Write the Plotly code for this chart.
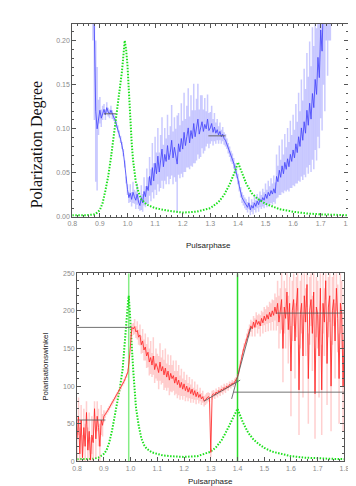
import numpy as np
import plotly.graph_objects as go

# ---------------- data: top panel (polarization degree) ----------------
blue_phase = np.round(np.arange(0.875, 1.7351, 0.005), 3)
blue_deg = [
    0.30, 0.20, 0.12, 0.10, 0.113, 0.121, 0.112, 0.118, 0.122, 0.116,
    0.124, 0.119, 0.117, 0.121, 0.116, 0.113, 0.110, 0.105, 0.100, 0.094,
    0.088, 0.081, 0.073, 0.060, 0.042, 0.031, 0.022, 0.027, 0.020, 0.028,
    0.023, 0.019, 0.026, 0.017, 0.013, 0.022, 0.016, 0.029, 0.023, 0.035,
    0.030, 0.046, 0.036, 0.056, 0.041, 0.061, 0.049, 0.069, 0.051, 0.063,
    0.077, 0.057, 0.071, 0.063, 0.081, 0.065, 0.073, 0.087, 0.067, 0.079,
    0.070, 0.060, 0.083, 0.074, 0.089, 0.077, 0.096, 0.081, 0.091, 0.101,
    0.084, 0.098, 0.089, 0.106, 0.091, 0.099, 0.111, 0.094, 0.103, 0.108,
    0.097, 0.105, 0.100, 0.111, 0.098, 0.101, 0.106, 0.096, 0.102, 0.095,
    0.099, 0.093, 0.097, 0.091, 0.094, 0.089, 0.087, 0.083, 0.078, 0.074,
    0.069, 0.066, 0.061, 0.055, 0.050, 0.043, 0.035, 0.028, 0.022, 0.019,
    0.016, 0.014, 0.011, 0.016, 0.008, 0.013, 0.010, 0.016, 0.012, 0.018,
    0.014, 0.020, 0.017, 0.022, 0.019, 0.026, 0.021, 0.028, 0.024, 0.030,
    0.026, 0.032, 0.027, 0.046, 0.040, 0.053, 0.045, 0.058, 0.049, 0.062,
    0.054, 0.066, 0.057, 0.071, 0.063, 0.076, 0.067, 0.083, 0.073, 0.091,
    0.080, 0.101, 0.087, 0.108, 0.095, 0.121, 0.104, 0.129, 0.111, 0.140,
    0.124, 0.156, 0.139, 0.181, 0.158, 0.212, 0.188, 0.250, 0.220, 0.300,
    0.260, 0.300, 0.300,
]
blue_err = [
    0.10, 0.09, 0.08, 0.07, 0.02, 0.015, 0.01, 0.008, 0.006, 0.006,
    0.006, 0.005, 0.005, 0.005, 0.005, 0.004, 0.004, 0.004, 0.004, 0.004,
    0.004, 0.004, 0.004, 0.004, 0.004, 0.006, 0.006, 0.01, 0.008, 0.012,
    0.008, 0.01, 0.012, 0.008, 0.006, 0.014, 0.01, 0.016, 0.012, 0.02,
    0.015, 0.022, 0.018, 0.028, 0.02, 0.03, 0.024, 0.032, 0.022, 0.03,
    0.036, 0.025, 0.03, 0.026, 0.035, 0.028, 0.03, 0.04, 0.03, 0.034,
    0.03, 0.055, 0.035, 0.03, 0.04, 0.032, 0.045, 0.03, 0.035, 0.045,
    0.03, 0.04, 0.032, 0.045, 0.03, 0.035, 0.04, 0.028, 0.035, 0.03,
    0.025, 0.03, 0.02, 0.028, 0.02, 0.018, 0.02, 0.015, 0.016, 0.012,
    0.012, 0.01, 0.01, 0.008, 0.008, 0.007, 0.007, 0.006, 0.006, 0.006,
    0.006, 0.006, 0.006, 0.006, 0.006, 0.006, 0.006, 0.006, 0.006, 0.006,
    0.006, 0.006, 0.006, 0.007, 0.006, 0.007, 0.007, 0.008, 0.007, 0.008,
    0.008, 0.009, 0.008, 0.01, 0.009, 0.012, 0.01, 0.013, 0.011, 0.014,
    0.012, 0.015, 0.012, 0.025, 0.018, 0.028, 0.02, 0.03, 0.022, 0.032,
    0.025, 0.035, 0.028, 0.038, 0.03, 0.04, 0.032, 0.045, 0.035, 0.05,
    0.04, 0.055, 0.045, 0.06, 0.05, 0.065, 0.055, 0.07, 0.06, 0.075,
    0.07, 0.08, 0.075, 0.09, 0.08, 0.1, 0.09, 0.1, 0.1, 0.1,
    0.1, 0.1, 0.1,
]

lc_top_phase = [0.80, 0.85, 0.88, 0.89, 0.90, 0.91, 0.92, 0.93, 0.94, 0.95,
                0.96, 0.97, 0.98, 0.99, 0.995, 1.00, 1.005, 1.01, 1.015, 1.02,
                1.03, 1.04, 1.05, 1.07, 1.10, 1.15, 1.20, 1.25, 1.30, 1.33,
                1.35, 1.37, 1.39, 1.40, 1.41, 1.43, 1.45, 1.47, 1.50, 1.55,
                1.60, 1.65, 1.70, 1.80]
lc_top = [0.002, 0.002, 0.003, 0.005, 0.008, 0.016, 0.030, 0.046, 0.067, 0.090,
          0.113, 0.138, 0.165, 0.200, 0.190, 0.172, 0.140, 0.110, 0.085, 0.065,
          0.040, 0.028, 0.020, 0.014, 0.010, 0.007, 0.005, 0.006, 0.010, 0.017,
          0.025, 0.037, 0.052, 0.062, 0.054, 0.038, 0.027, 0.021, 0.015, 0.009,
          0.006, 0.004, 0.003, 0.002]

# fitted constant levels (top)
top_fit_x = [[0.915, 0.958], [1.293, 1.355]]
top_fit_y = [0.117, 0.092]

# ---------------- data: bottom panel (polarization angle) ----------------
red_phase = np.round(np.arange(0.80, 1.8001, 0.005), 3)
red_angle = [
    30, 60, 10, 55, 5, 45, 20, 65, 15, 40,
    2, 35, 25, 70, 30, 60, 45, 20, 55, 48,
    60, 62, 65, 68, 71, 74, 77, 80, 83, 86,
    89, 92, 96, 99, 103, 106, 110, 114, 119, 135,
    165, 178, 176, 179, 172, 174, 165, 168, 155, 160,
    148, 152, 140, 145, 132, 138, 128, 140, 122, 130,
    125, 118, 132, 120, 126, 115, 124, 112, 120, 108,
    117, 110, 114, 104, 112, 102, 108, 98, 105, 96,
    103, 94, 100, 92, 98, 90, 96, 88, 94, 86,
    92, 85, 89, 83, 86, 80, 82, 84, 86, 85,
    12, 88, 90, 88, 92, 90, 94, 92, 96, 94,
    98, 96, 100, 98, 102, 101, 104, 103, 106, 108,
    112, 120, 130, 138, 145, 152, 158, 164, 170, 174,
    180, 176, 185, 178, 188, 182, 186, 180, 190, 184,
    193, 187, 195, 189, 198, 192, 200, 194, 205, 196,
    210, 185, 200, 215, 150, 205, 190, 225, 175, 210,
    120, 200, 215, 160, 205, 230, 95, 195, 210, 140,
    220, 185, 235, 110, 200, 215, 170, 225, 90, 205,
    195, 140, 230, 95, 210, 185, 240, 130, 205, 220,
    100, 200, 215, 160, 230, 190, 110, 210, 195, 100,
    180,
]
red_err = [
    30, 25, 35, 20, 30, 25, 30, 15, 30, 25,
    30, 25, 30, 10, 25, 20, 25, 30, 20, 15,
    8, 4, 3, 3, 3, 3, 3, 3, 3, 3,
    3, 3, 3, 3, 3, 3, 3, 3, 4, 6,
    6, 5, 8, 10, 8, 12, 10, 14, 12, 16,
    14, 18, 16, 20, 18, 22, 16, 25, 18, 20,
    18, 22, 25, 18, 22, 20, 26, 18, 22, 20,
    24, 18, 20, 16, 22, 18, 20, 16, 18, 14,
    16, 14, 15, 12, 14, 12, 13, 10, 12, 10,
    10, 8, 9, 8, 8, 7, 7, 7, 6, 6,
    6, 6, 5, 5, 5, 5, 5, 5, 5, 5,
    5, 5, 4, 4, 4, 4, 4, 4, 4, 4,
    4, 4, 4, 4, 4, 5, 5, 6, 6, 8,
    8, 10, 8, 12, 10, 12, 10, 14, 10, 14,
    12, 15, 12, 16, 14, 18, 15, 20, 18, 22,
    30, 35, 30, 40, 45, 35, 40, 30, 45, 35,
    60, 40, 35, 50, 40, 30, 60, 45, 40, 55,
    35, 45, 30, 60, 45, 35, 50, 30, 60, 40,
    45, 55, 30, 60, 40, 45, 25, 55, 40, 35,
    60, 45, 35, 50, 30, 45, 60, 40, 45, 60,
    50,
]

lc_bot_phase = [0.80, 0.82, 0.84, 0.86, 0.88, 0.89, 0.90, 0.91, 0.92, 0.93,
                0.94, 0.95, 0.96, 0.97, 0.98, 0.985, 0.99, 0.993, 0.997, 1.00,
                1.005, 1.01, 1.015, 1.02, 1.03, 1.04, 1.05, 1.06, 1.08, 1.10,
                1.12, 1.15, 1.20, 1.25, 1.28, 1.30, 1.32, 1.34, 1.36, 1.38,
                1.39, 1.40, 1.41, 1.42, 1.44, 1.46, 1.48, 1.50, 1.53, 1.56,
                1.60, 1.65, 1.70, 1.75, 1.80]
lc_bot = [3, 3, 3, 3.5, 5, 7, 10, 15, 25, 40,
          58, 75, 98, 122, 160, 188, 210, 220, 200, 175,
          150, 120, 92, 72, 48, 31, 22, 17, 12, 9.5,
          8, 7, 6, 7, 10, 13, 19, 28, 41, 55,
          63, 70, 61, 52, 38, 29, 23, 18, 13, 10,
          7, 5, 4, 3.5, 3]

peak_phases = [0.993, 1.40]
peak_colors = ["rgba(120,235,120,0.9)", "rgba(40,220,40,1)"]

# fitted lines (bottom): x pairs, y pairs
bot_fit_x = [[0.80, 1.003], [0.80, 0.906], [1.385, 1.80], [1.545, 1.80],
             [1.275, 1.41], [1.378, 1.45]]
bot_fit_y = [[178, 178], [55, 55], [92, 92], [197, 197],
             [80, 108], [83, 178]]

# ---------------- figure ----------------
W, H = 356, 486
fig = go.Figure()
GREEN = "#1ee01e"
GREEN_DASH = "1.5px,1.5px"

# top panel
fig.add_trace(go.Scatter(
    x=blue_phase, y=blue_deg, mode="lines", xaxis="x", yaxis="y",
    line=dict(color="rgba(70,70,250,0.85)", width=1),
    error_y=dict(type="data", array=blue_err, color="rgba(150,150,255,0.5)",
                 thickness=1.5, width=0),
    showlegend=False))
fig.add_trace(go.Scatter(
    x=lc_top_phase, y=lc_top, mode="lines", xaxis="x", yaxis="y",
    line=dict(color=GREEN, width=2, dash=GREEN_DASH), showlegend=False))
for xs, yv in zip(top_fit_x, top_fit_y):
    fig.add_trace(go.Scatter(x=xs, y=[yv, yv], mode="lines", xaxis="x", yaxis="y",
                             line=dict(color="rgba(90,90,90,0.9)", width=1),
                             showlegend=False))

# bottom panel
for ph, col in zip(peak_phases, peak_colors):
    fig.add_trace(go.Scatter(x=[ph, ph], y=[0, 250], mode="lines", xaxis="x2", yaxis="y2",
                             line=dict(color=col, width=1.5), showlegend=False))
fig.add_trace(go.Scatter(
    x=lc_bot_phase, y=lc_bot, mode="lines", xaxis="x2", yaxis="y2",
    line=dict(color=GREEN, width=2, dash=GREEN_DASH), showlegend=False))
fig.add_trace(go.Scatter(
    x=red_phase, y=red_angle, mode="lines", xaxis="x2", yaxis="y2",
    line=dict(color="rgba(255,40,40,0.85)", width=1),
    error_y=dict(type="data", array=red_err, color="rgba(255,160,160,0.5)",
                 thickness=1.5, width=0),
    showlegend=False))
for xs, ys in zip(bot_fit_x, bot_fit_y):
    fig.add_trace(go.Scatter(x=xs, y=ys, mode="lines", xaxis="x2", yaxis="y2",
                             line=dict(color="rgba(90,90,90,0.85)", width=1),
                             showlegend=False))

tickfont = dict(family="Liberation Sans, Arial", size=7, color="#8a8a8a")
common = dict(showline=True, linecolor="#555", linewidth=1, mirror="allticks",
              ticks="inside", ticklen=4, tickcolor="#555", showgrid=False,
              zeroline=False, tickfont=tickfont)


def px(v, total):
    return v / total


fig.update_layout(
    width=W, height=H, margin=dict(l=0, r=0, t=0, b=0),
    paper_bgcolor="white", plot_bgcolor="white",
    xaxis=dict(domain=[px(61, W), px(345, W)], range=[0.8, 1.8], dtick=0.1,
               tickformat=".1f", anchor="y",
               minor=dict(ticks="inside", ticklen=2, dtick=0.02, tickcolor="#555"),
               **common),
    yaxis=dict(domain=[1 - px(208, H), 1 - px(12, H)], range=[0, 0.219], dtick=0.05,
               tickformat=".2f", anchor="x",
               minor=dict(ticks="inside", ticklen=2, dtick=0.01, tickcolor="#555"),
               **common),
    xaxis2=dict(domain=[px(66, W), px(341, W)], range=[0.8, 1.8], dtick=0.1,
                tickformat=".1f", anchor="y2",
                minor=dict(ticks="inside", ticklen=2, dtick=0.02, tickcolor="#555"),
                **common),
    yaxis2=dict(domain=[1 - px(456, H), 1 - px(265, H)], range=[0, 250], dtick=50,
                tickformat=".0f", anchor="x2",
                minor=dict(ticks="inside", ticklen=2, dtick=10, tickcolor="#555"),
                **common),
)

titlefont = dict(family="Liberation Sans, Arial", size=8, color="#222")
fig.add_annotation(text="Pulsarphase", x=px(201, W), y=1 - px(237, H), xref="paper",
                   yref="paper", showarrow=False, font=titlefont,
                   xanchor="center", yanchor="middle")
fig.add_annotation(text="Pulsarphase", x=px(203, W), y=1 - px(476, H), xref="paper",
                   yref="paper", showarrow=False, font=titlefont,
                   xanchor="center", yanchor="middle")
fig.add_annotation(text="Polarization Degree", x=px(25, W), y=1 - px(134, H),
                   xref="paper", yref="paper", showarrow=False, textangle=-90,
                   xanchor="center", yanchor="middle",
                   font=dict(family="Liberation Serif, Times New Roman", size=16,
                             color="#111"))
fig.add_annotation(text="Polarisationswinkel", x=px(34, W), y=1 - px(360, H),
                   xref="paper", yref="paper", showarrow=False, textangle=-90,
                   xanchor="center", yanchor="middle", font=titlefont)

fig.write_html("out.html")
